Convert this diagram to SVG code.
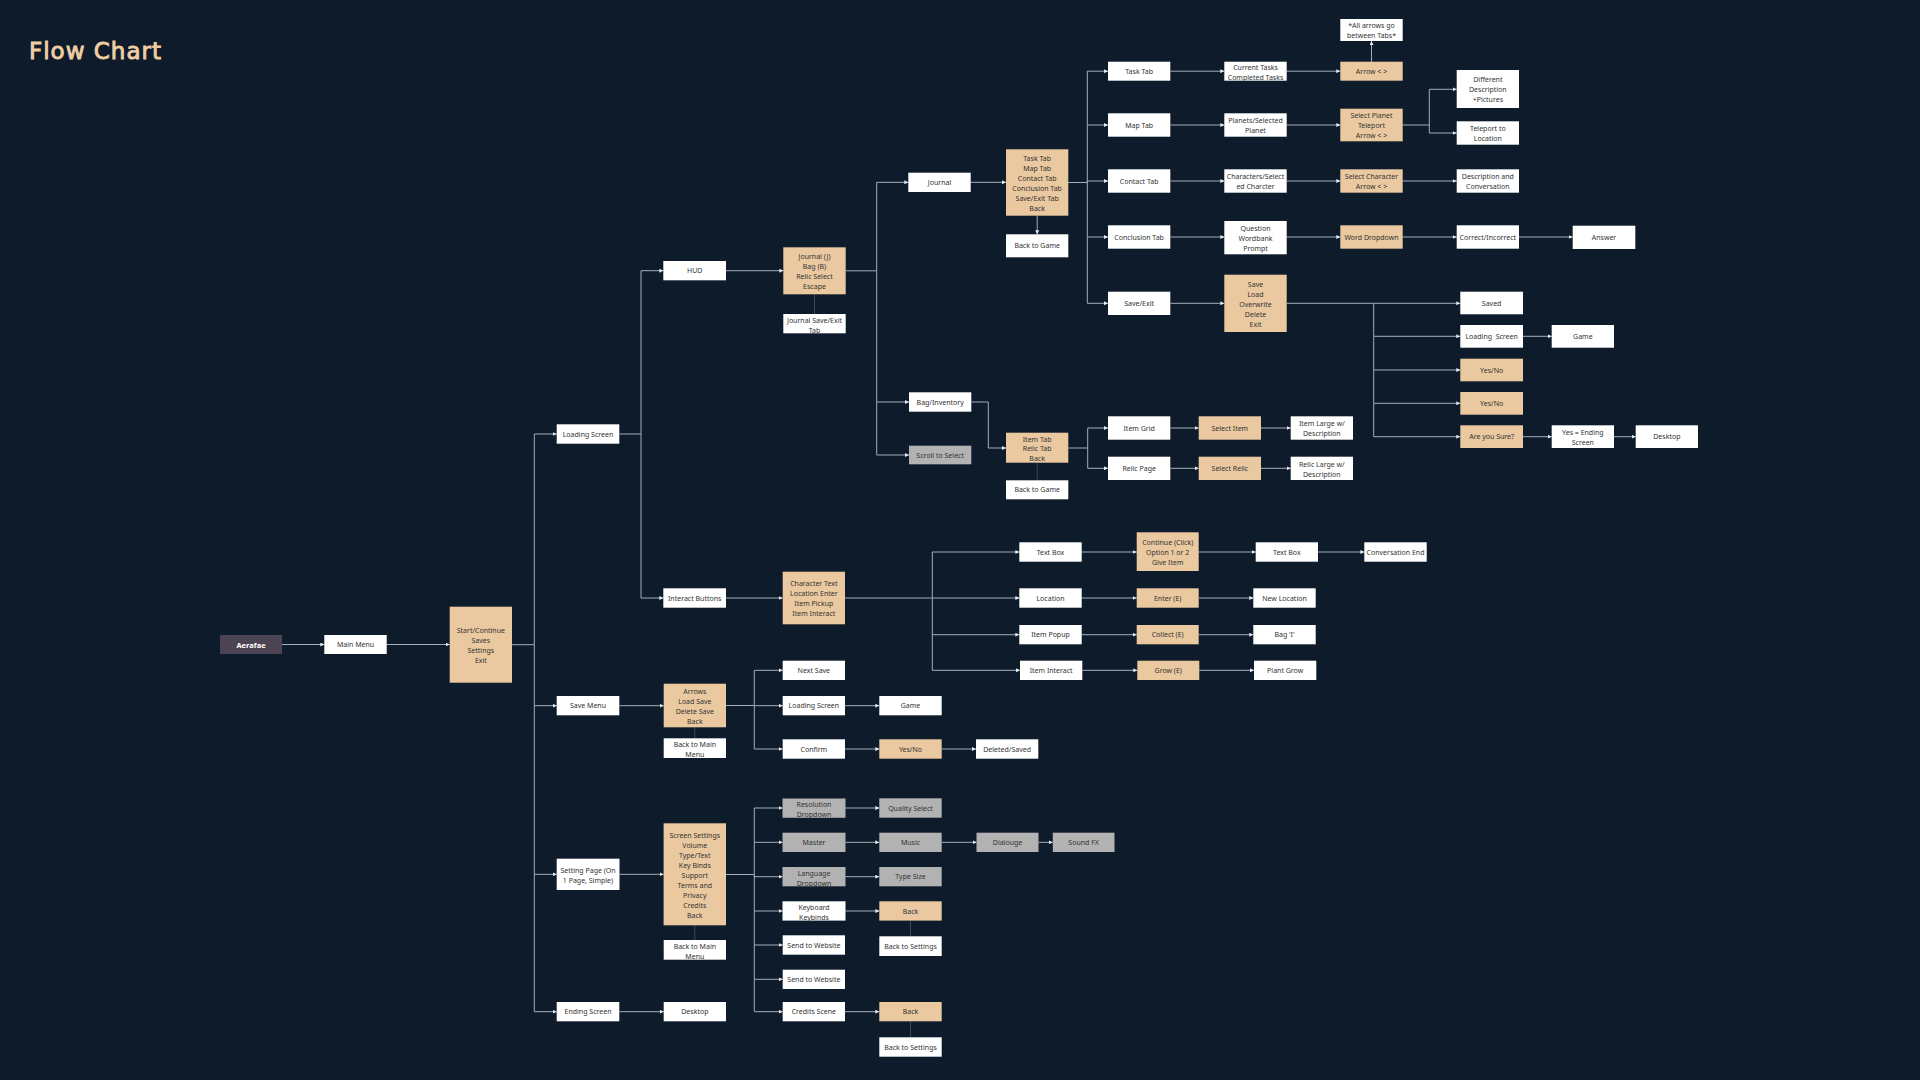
<svg xmlns="http://www.w3.org/2000/svg" width="1920" height="1080" viewBox="0 0 1920 1080">
<defs>
<style>
.w{fill:#ffffff}
.t{fill:#ebc9a0}
.g{fill:#b2b2b2}
.a{fill:#4d4453}
text{font-family:"Noto Sans","Open Sans","DejaVu Sans",sans-serif;font-size:7px;fill:#333333;text-anchor:middle;dominant-baseline:central}
.wt{fill:#ffffff;font-weight:bold;font-size:7.5px}
.c path{fill:none;stroke:#a3aeb9;stroke-width:1;marker-end:url(#ar)}
.f path{fill:none;stroke:#3b4654;stroke-width:1}
.title{font-family:"DejaVu Sans",sans-serif;font-size:23px;fill:#f0cea2;text-anchor:start;dominant-baseline:auto;letter-spacing:1px;stroke:#f0cea2;stroke-width:0.9;paint-order:stroke}
</style>
<marker id="ar" markerUnits="userSpaceOnUse" markerWidth="4" markerHeight="4" refX="4" refY="2" orient="auto">
<path d="M0,0 L4,2 L0,4 z" fill="#e4eaef"/>
</marker>
</defs>
<rect x="0" y="0" width="1920" height="1080" fill="#0d1b2a"/>
<text class="title" x="29" y="59">Flow Chart</text>

<g id="connectors">
<g class="c">
<path d="M282,644.5 H324.3"/>
<path d="M386.7,644.5 H449.7"/>
<path d="M512,644.7 H534.3 V434 H556.7"/>
<path d="M534.3,644.7 V705.7 H556.7"/>
<path d="M534.3,705.7 V874.3 H556.7"/>
<path d="M534.3,874.3 V1011.7 H556.7"/>
<path d="M619.3,434 H641 V270.7 H663.3"/>
<path d="M641,434 V598 H663.3"/>
<path d="M726,270.7 H783.3"/>
<path d="M845.7,270.8 H876.7 V182.3 H908.3"/>
<path d="M876.7,270.8 V402 H909"/>
<path d="M876.7,402 V455 H909"/>
<path d="M970.7,182.3 H1006"/>
<path d="M1037.2,215.7 V234.3"/>
<path d="M1068.3,182.5 H1087.3 V71.2 H1108"/>
<path d="M1087.3,125 H1108"/>
<path d="M1087.3,182.5 V181 H1108"/>
<path d="M1087.3,182.5 V237 H1108"/>
<path d="M1087.3,237 V303.3 H1108"/>
<path d="M1170.3,71.2 H1224.3"/>
<path d="M1286.7,71.2 H1340.3"/>
<path d="M1371.5,61.7 V41"/>
<path d="M1170.3,125 H1224.3"/>
<path d="M1286.7,125 H1340.3"/>
<path d="M1402.7,125 H1429.3 V89.3 H1456.7"/>
<path d="M1429.3,125 V133 H1456.7"/>
<path d="M1170.3,181 H1224.3"/>
<path d="M1286.7,181 H1340.3"/>
<path d="M1402.7,181 H1456.7"/>
<path d="M1170.3,237 H1224.3"/>
<path d="M1286.7,237 H1340.3"/>
<path d="M1402.7,237 H1456.7"/>
<path d="M1519,237 H1572.7"/>
<path d="M1170.3,303.3 H1224.3"/>
<path d="M1286.7,303.3 H1460.3"/>
<path d="M1373.7,303.3 V336.3 H1460.3"/>
<path d="M1373.7,336.3 V370 H1460.3"/>
<path d="M1373.7,370 V403.3 H1460.3"/>
<path d="M1373.7,403.3 V436.7 H1460.3"/>
<path d="M1523,336.3 H1551.7"/>
<path d="M1523,436.7 H1551.7"/>
<path d="M1614,436.7 H1635.7"/>
<path d="M971.3,402 H988.3 V448 H1006"/>
<path d="M1068.3,448 H1087.7 V428 H1108"/>
<path d="M1087.7,448 V468.3 H1108"/>
<path d="M1170.3,428 H1198.7"/>
<path d="M1261,428 H1290.7"/>
<path d="M1170.3,468.3 H1198.7"/>
<path d="M1261,468.3 H1290.7"/>
<path d="M726,598 H782.7"/>
<path d="M845,598 H932.3 V552 H1019.3"/>
<path d="M932.3,598 H1019.3"/>
<path d="M932.3,598 V634.7 H1019.3"/>
<path d="M932.3,634.7 V670.3 H1020"/>
<path d="M1081.7,552 H1136.7"/>
<path d="M1198.7,552 H1255.7"/>
<path d="M1318,552 H1364.3"/>
<path d="M1081.7,598 H1136.7"/>
<path d="M1198.7,598 H1253.3"/>
<path d="M1081.7,634.7 H1136.7"/>
<path d="M1198.7,634.7 H1253.3"/>
<path d="M1082.3,670.3 H1137.3"/>
<path d="M1199.3,670.3 H1254"/>
<path d="M619.3,705.7 H663.7"/>
<path d="M726,705.5 H754.3 V670.3 H782.7"/>
<path d="M754.3,705.7 H782.7"/>
<path d="M754.3,705.7 V749 H782.7"/>
<path d="M845,705.7 H879.3"/>
<path d="M845,749 H879.3"/>
<path d="M941.7,749 H976"/>
<path d="M619.5,874.3 H663.6"/>
<path d="M726,874.5 H754.3 V808 H782.5"/>
<path d="M754.3,842.3 H782.5"/>
<path d="M754.3,874.5 V876.7 H782.5"/>
<path d="M754.3,874.5 V911 H782.5"/>
<path d="M754.3,911 V945 H782.7"/>
<path d="M754.3,945 V979.3 H782.7"/>
<path d="M754.3,979.3 V1011.7 H782.7"/>
<path d="M845.5,808 H879.3"/>
<path d="M845.5,842.3 H879.3"/>
<path d="M941.7,842.3 H976.5"/>
<path d="M1038.5,842.3 H1052.8"/>
<path d="M845.5,876.7 H879.3"/>
<path d="M845.5,911 H879.3"/>
<path d="M845,1011.7 H879.3"/>
<path d="M619.3,1011.7 H663.7"/>
</g>
<g class="f">
<path d="M814.5,294.3 V314"/>
<path d="M1037.2,462.7 V480.3"/>
<path d="M694.8,727.3 V738.3"/>
<path d="M694.8,925.3 V940"/>
<path d="M910.5,920.6 V936.3"/>
<path d="M910.5,1021.3 V1037.3"/>
</g>
</g>

<g id="n-aerafae"><rect class="a" x="220" y="635" width="62" height="19"/><text class="wt" x="251" y="644.5">Aerafae</text></g>
<g id="n-main-menu"><rect class="w" x="324.3" y="635" width="62.4" height="19"/><text x="355.5" y="644.5">Main Menu</text></g>
<g id="n-start"><rect class="t" x="449.7" y="606.7" width="62.3" height="76"/><text x="480.85"><tspan x="480.85" y="629.7">Start/Continue</tspan><tspan x="480.85" y="639.7">Saves</tspan><tspan x="480.85" y="649.7">Settings</tspan><tspan x="480.85" y="659.7">Exit</tspan></text></g>

<g id="n-loading-screen"><rect class="w" x="556.7" y="424.3" width="62.6" height="19.4"/><text x="588" y="434">Loading Screen</text></g>
<g id="n-save-menu"><rect class="w" x="556.7" y="696" width="62.6" height="19.3"/><text x="588" y="705.7">Save Menu</text></g>
<g id="n-setting-page"><rect class="w" x="556.7" y="858.7" width="62.8" height="31.3"/><text x="588"><tspan x="588" y="869.7">Setting Page (On</tspan><tspan x="588" y="879.5">1 Page, Simple)</tspan></text></g>
<g id="n-ending-screen"><rect class="w" x="556.7" y="1002" width="62.6" height="19.3"/><text x="588" y="1011.7">Ending Screen</text></g>

<g id="n-hud"><rect class="w" x="663.3" y="261" width="62.7" height="19.3"/><text x="694.7" y="270.7">HUD</text></g>
<g id="n-interact-buttons"><rect class="w" x="663.3" y="588.3" width="62.7" height="19.4"/><text x="694.7" y="598">Interact Buttons</text></g>
<g id="n-arrows-load"><rect class="t" x="663.7" y="683.7" width="62.3" height="43.6"/><text x="694.85"><tspan x="694.85" y="690.7">Arrows</tspan><tspan x="694.85" y="700.7">Load Save</tspan><tspan x="694.85" y="710.7">Delete Save</tspan><tspan x="694.85" y="720.7">Back</tspan></text></g>
<g id="n-back-main-1"><rect class="w" x="663.7" y="738.3" width="62.3" height="19.7"/><text x="694.85"><tspan x="694.85" y="744">Back to Main</tspan><tspan x="694.85" y="754">Menu</tspan></text></g>
<g id="n-screen-settings"><rect class="t" x="663.6" y="823.3" width="62.4" height="102"/><text x="694.8"><tspan x="694.8" y="834.5">Screen Settings</tspan><tspan x="694.8" y="844.5">Volume</tspan><tspan x="694.8" y="854.5">Type/Text</tspan><tspan x="694.8" y="864.5">Key Binds</tspan><tspan x="694.8" y="874.5">Support</tspan><tspan x="694.8" y="884.5">Terms and</tspan><tspan x="694.8" y="894.5">Privacy</tspan><tspan x="694.8" y="904.5">Credits</tspan><tspan x="694.8" y="914.5">Back</tspan></text></g>
<g id="n-back-main-2"><rect class="w" x="663.7" y="940" width="62.3" height="19.7"/><text x="694.85"><tspan x="694.85" y="946">Back to Main</tspan><tspan x="694.85" y="956">Menu</tspan></text></g>
<g id="n-desktop-1"><rect class="w" x="663.7" y="1002" width="62.3" height="19.3"/><text x="694.85" y="1011.7">Desktop</text></g>

<g id="n-journal-keys"><rect class="t" x="783.3" y="247.3" width="62.4" height="47"/><text x="814.5"><tspan x="814.5" y="255.8">Journal (J)</tspan><tspan x="814.5" y="265.8">Bag (B)</tspan><tspan x="814.5" y="275.8">Relic Select</tspan><tspan x="814.5" y="285.8">Escape</tspan></text></g>
<g id="n-journal-save-exit"><rect class="w" x="783.3" y="314" width="62.4" height="19.3"/><text x="814.5"><tspan x="814.5" y="320">Journal Save/Exit</tspan><tspan x="814.5" y="329.5">Tab</tspan></text></g>
<g id="n-character-text"><rect class="t" x="782.7" y="571.7" width="62.3" height="52.6"/><text x="813.85"><tspan x="813.85" y="583.3">Character Text</tspan><tspan x="813.85" y="593.3">Location Enter</tspan><tspan x="813.85" y="603.3">Item Pickup</tspan><tspan x="813.85" y="613.3">Item Interact</tspan></text></g>
<g id="n-next-save"><rect class="w" x="782.7" y="660.7" width="62.3" height="19.3"/><text x="813.85" y="670.3">Next Save</text></g>
<g id="n-loading-screen-2"><rect class="w" x="782.7" y="696" width="62.3" height="19.3"/><text x="813.85" y="705.7">Loading Screen</text></g>
<g id="n-confirm"><rect class="w" x="782.7" y="739.3" width="62.3" height="19.4"/><text x="813.85" y="749">Confirm</text></g>
<g id="n-resolution"><rect class="g" x="782.5" y="798.5" width="63" height="19.3"/><text x="814"><tspan x="814" y="804">Resolution</tspan><tspan x="814" y="814">Dropdown</tspan></text></g>
<g id="n-master"><rect class="g" x="782.5" y="832.7" width="63" height="19.3"/><text x="814" y="842.3">Master</text></g>
<g id="n-language"><rect class="g" x="782.5" y="867" width="63" height="19.3"/><text x="814"><tspan x="814" y="872.7">Language</tspan><tspan x="814" y="882.7">Dropdown</tspan></text></g>
<g id="n-keyboard"><rect class="w" x="782.5" y="901.3" width="63" height="19.3"/><text x="814"><tspan x="814" y="906.7">Keyboard</tspan><tspan x="814" y="916.7">Keybinds</tspan></text></g>
<g id="n-send-website-1"><rect class="w" x="782.7" y="935.3" width="62.3" height="19.4"/><text x="813.85" y="945">Send to Website</text></g>
<g id="n-send-website-2"><rect class="w" x="782.7" y="969.7" width="62.3" height="19.3"/><text x="813.85" y="979.3">Send to Website</text></g>
<g id="n-credits-scene"><rect class="w" x="782.7" y="1002" width="62.3" height="19.3"/><text x="813.85" y="1011.7">Credits Scene</text></g>

<g id="n-journal"><rect class="w" x="908.3" y="172.7" width="62.4" height="19.3"/><text x="939.5" y="182.3">Journal</text></g>
<g id="n-bag-inventory"><rect class="w" x="909" y="392.3" width="62.3" height="19.4"/><text x="940.15" y="402">Bag/Inventory</text></g>
<g id="n-scroll-select"><rect class="g" x="909" y="445.7" width="62.3" height="18.6"/><text x="940.15" y="455">Scroll to Select</text></g>
<g id="n-game-1"><rect class="w" x="879.3" y="696" width="62.4" height="19.3"/><text x="910.5" y="705.7">Game</text></g>
<g id="n-yesno-1"><rect class="t" x="879.3" y="739.3" width="62.4" height="19.4"/><text x="910.5" y="749">Yes/No</text></g>
<g id="n-quality"><rect class="g" x="879.3" y="798.3" width="62.4" height="19.4"/><text x="910.5" y="808">Quality Select</text></g>
<g id="n-music"><rect class="g" x="879.3" y="832.7" width="62.4" height="19.3"/><text x="910.5" y="842.3">Music</text></g>
<g id="n-type-size"><rect class="g" x="879.3" y="867" width="62.4" height="19.3"/><text x="910.5" y="876.7">Type Size</text></g>
<g id="n-back-1"><rect class="t" x="879.3" y="901.3" width="62.4" height="19.3"/><text x="910.5" y="911">Back</text></g>
<g id="n-back-settings-1"><rect class="w" x="879.3" y="936.3" width="62.4" height="19.7"/><text x="910.5" y="946">Back to Settings</text></g>
<g id="n-back-2"><rect class="t" x="879.3" y="1002" width="62.4" height="19.3"/><text x="910.5" y="1011.7">Back</text></g>
<g id="n-back-settings-2"><rect class="w" x="879.3" y="1037.3" width="62.4" height="19.4"/><text x="910.5" y="1047">Back to Settings</text></g>
<g id="n-deleted-saved"><rect class="w" x="976" y="739.3" width="62.3" height="19.4"/><text x="1007.15" y="749">Deleted/Saved</text></g>
<g id="n-dialouge"><rect class="g" x="976.5" y="832.7" width="62" height="19.3"/><text x="1007.5" y="842.3">Dialouge</text></g>
<g id="n-sound-fx"><rect class="g" x="1052.8" y="832.7" width="61.7" height="19.3"/><text x="1083.65" y="842.3">Sound FX</text></g>

<g id="n-tabs"><rect class="t" x="1006" y="149.3" width="62.3" height="66.4"/><text x="1037.15"><tspan x="1037.15" y="157.5">Task Tab</tspan><tspan x="1037.15" y="167.5">Map Tab</tspan><tspan x="1037.15" y="177.5">Contact Tab</tspan><tspan x="1037.15" y="187.5">Conclusion Tab</tspan><tspan x="1037.15" y="197.5">Save/Exit Tab</tspan><tspan x="1037.15" y="207.5">Back</tspan></text></g>
<g id="n-back-game-1"><rect class="w" x="1006" y="234.3" width="62.3" height="23"/><text x="1037.15" y="245.8">Back to Game</text></g>
<g id="n-item-tab"><rect class="t" x="1006" y="432.7" width="62.3" height="30"/><text x="1037.15"><tspan x="1037.15" y="438.5">Item Tab</tspan><tspan x="1037.15" y="448.3">Relic Tab</tspan><tspan x="1037.15" y="458">Back</tspan></text></g>
<g id="n-back-game-2"><rect class="w" x="1006" y="480.3" width="62.3" height="19"/><text x="1037.15" y="489.8">Back to Game</text></g>
<g id="n-text-box-1"><rect class="w" x="1019.3" y="542.3" width="62.4" height="19.4"/><text x="1050.5" y="552">Text Box</text></g>
<g id="n-location"><rect class="w" x="1019.3" y="588.3" width="62.4" height="19.4"/><text x="1050.5" y="598">Location</text></g>
<g id="n-item-popup"><rect class="w" x="1019.3" y="625" width="62.4" height="19.3"/><text x="1050.5" y="634.7">Item Popup</text></g>
<g id="n-item-interact"><rect class="w" x="1020" y="660.7" width="62.3" height="19.3"/><text x="1051.15" y="670.3">Item Interact</text></g>

<g id="n-task-tab"><rect class="w" x="1108" y="61.7" width="62.3" height="19"/><text x="1139.15" y="71.2">Task Tab</text></g>
<g id="n-map-tab"><rect class="w" x="1108" y="113.3" width="62.3" height="23.4"/><text x="1139.15" y="125">Map Tab</text></g>
<g id="n-contact-tab"><rect class="w" x="1108" y="169.3" width="62.3" height="23.4"/><text x="1139.15" y="181">Contact Tab</text></g>
<g id="n-conclusion-tab"><rect class="w" x="1108" y="225.3" width="62.3" height="23.4"/><text x="1139.15" y="237">Conclusion Tab</text></g>
<g id="n-save-exit"><rect class="w" x="1108" y="291.7" width="62.3" height="23.3"/><text x="1139.15" y="303.3">Save/Exit</text></g>
<g id="n-item-grid"><rect class="w" x="1108" y="416.3" width="62.3" height="23.4"/><text x="1139.15" y="428">Item Grid</text></g>
<g id="n-relic-page"><rect class="w" x="1108" y="456.7" width="62.3" height="23.3"/><text x="1139.15" y="468.3">Relic Page</text></g>

<g id="n-continue"><rect class="t" x="1136.7" y="532.3" width="62" height="38.7"/><text x="1167.7"><tspan x="1167.7" y="541.7">Continue (Click)</tspan><tspan x="1167.7" y="551.7">Option 1 or 2</tspan><tspan x="1167.7" y="561.7">Give Item</tspan></text></g>
<g id="n-enter"><rect class="t" x="1136.7" y="588.3" width="62" height="19.4"/><text x="1167.7" y="598">Enter (E)</text></g>
<g id="n-collect"><rect class="t" x="1136.7" y="625" width="62" height="19.3"/><text x="1167.7" y="634.7">Collect (E)</text></g>
<g id="n-grow"><rect class="t" x="1137.3" y="660.7" width="62" height="19.3"/><text x="1168.3" y="670.3">Grow (E)</text></g>
<g id="n-select-item"><rect class="t" x="1198.7" y="416.3" width="62.3" height="23.4"/><text x="1229.85" y="428">Select Item</text></g>
<g id="n-select-relic"><rect class="t" x="1198.7" y="456.7" width="62.3" height="23.3"/><text x="1229.85" y="468.3">Select Relic</text></g>

<g id="n-current-tasks"><rect class="w" x="1224.3" y="61.7" width="62.4" height="19"/><text x="1255.5"><tspan x="1255.5" y="67.3">Current Tasks</tspan><tspan x="1255.5" y="77">Completed Tasks</tspan></text></g>
<g id="n-planets"><rect class="w" x="1224.3" y="113.3" width="62.4" height="23.4"/><text x="1255.5"><tspan x="1255.5" y="120">Planets/Selected</tspan><tspan x="1255.5" y="130">Planet</tspan></text></g>
<g id="n-characters"><rect class="w" x="1224.3" y="169.3" width="62.4" height="23.4"/><text x="1255.5"><tspan x="1255.5" y="176">Characters/Select</tspan><tspan x="1255.5" y="186">ed Charcter</tspan></text></g>
<g id="n-question"><rect class="w" x="1224.3" y="221" width="62.4" height="33.3"/><text x="1255.5"><tspan x="1255.5" y="227.7">Question</tspan><tspan x="1255.5" y="237.7">Wordbank</tspan><tspan x="1255.5" y="247.7">Prompt</tspan></text></g>
<g id="n-save-load"><rect class="t" x="1224.3" y="274.7" width="62.4" height="57.3"/><text x="1255.5"><tspan x="1255.5" y="283.5">Save</tspan><tspan x="1255.5" y="293.5">Load</tspan><tspan x="1255.5" y="303.5">Overwrite</tspan><tspan x="1255.5" y="313.5">Delete</tspan><tspan x="1255.5" y="323.5">Exit</tspan></text></g>

<g id="n-text-box-2"><rect class="w" x="1255.7" y="542.3" width="62.3" height="19.4"/><text x="1286.85" y="552">Text Box</text></g>
<g id="n-new-location"><rect class="w" x="1253.3" y="588.3" width="62.4" height="19.4"/><text x="1284.5" y="598">New Location</text></g>
<g id="n-bag-i"><rect class="w" x="1253.3" y="625" width="62.4" height="19.3"/><text x="1284.5" y="634.7">Bag 'I'</text></g>
<g id="n-plant-grow"><rect class="w" x="1254" y="660.7" width="62.3" height="19.3"/><text x="1285.15" y="670.3">Plant Grow</text></g>
<g id="n-item-large"><rect class="w" x="1290.7" y="416.3" width="62.3" height="23.4"/><text x="1321.85"><tspan x="1321.85" y="423.3">Item Large w/</tspan><tspan x="1321.85" y="433.3">Description</tspan></text></g>
<g id="n-relic-large"><rect class="w" x="1290.7" y="456.7" width="62.3" height="23.3"/><text x="1321.85"><tspan x="1321.85" y="463.7">Relic Large w/</tspan><tspan x="1321.85" y="473.7">Description</tspan></text></g>

<g id="n-arrow"><rect class="t" x="1340.3" y="61.7" width="62.4" height="19"/><text x="1371.5" y="71.2">Arrow &lt; &gt;</text></g>
<g id="n-note"><rect class="w" x="1340.3" y="19" width="62.4" height="22"/><text x="1371.5"><tspan x="1371.5" y="25.3">*All arrows go</tspan><tspan x="1371.5" y="35">between Tabs*</tspan></text></g>
<g id="n-select-planet"><rect class="t" x="1340.3" y="108.7" width="62.4" height="32.6"/><text x="1371.5"><tspan x="1371.5" y="115.3">Select Planet</tspan><tspan x="1371.5" y="125.3">Teleport</tspan><tspan x="1371.5" y="135">Arrow &lt; &gt;</tspan></text></g>
<g id="n-select-character"><rect class="t" x="1340.3" y="169.3" width="62.4" height="23.4"/><text x="1371.5"><tspan x="1371.5" y="176">Select Character</tspan><tspan x="1371.5" y="186">Arrow &lt; &gt;</tspan></text></g>
<g id="n-word-dropdown"><rect class="t" x="1340.3" y="225.3" width="62.4" height="23.4"/><text x="1371.5" y="237">Word Dropdown</text></g>
<g id="n-conversation-end"><rect class="w" x="1364.3" y="542.3" width="62.4" height="19.4"/><text x="1395.5" y="552">Conversation End</text></g>

<g id="n-different-desc"><rect class="w" x="1456.7" y="70" width="62.3" height="38"/><text x="1487.85"><tspan x="1487.85" y="79">Different</tspan><tspan x="1487.85" y="89">Description</tspan><tspan x="1487.85" y="99">+Pictures</tspan></text></g>
<g id="n-teleport"><rect class="w" x="1456.7" y="121.3" width="62.3" height="23.4"/><text x="1487.85"><tspan x="1487.85" y="128.3">Teleport to</tspan><tspan x="1487.85" y="138">Location</tspan></text></g>
<g id="n-desc-conv"><rect class="w" x="1456.7" y="169.3" width="62.3" height="23.4"/><text x="1487.85"><tspan x="1487.85" y="176">Description and</tspan><tspan x="1487.85" y="186">Conversation</tspan></text></g>
<g id="n-correct"><rect class="w" x="1456.7" y="225.3" width="62.3" height="23.4"/><text x="1487.85" y="237">Correct/Incorrect</text></g>
<g id="n-saved"><rect class="w" x="1460.3" y="291.7" width="62.7" height="22.6"/><text x="1491.65" y="303">Saved</text></g>
<g id="n-loading-screen-3"><rect class="w" x="1460.3" y="325" width="62.7" height="22.7"/><text x="1491.65" y="336.3" style="white-space:pre">Loading  Screen</text></g>
<g id="n-yesno-2"><rect class="t" x="1460.3" y="358.7" width="62.7" height="22.6"/><text x="1491.65" y="370">Yes/No</text></g>
<g id="n-yesno-3"><rect class="t" x="1460.3" y="392" width="62.7" height="22.7"/><text x="1491.65" y="403.3">Yes/No</text></g>
<g id="n-are-you-sure"><rect class="t" x="1460.3" y="425.3" width="62.7" height="22.7"/><text x="1491.65" y="436.7">Are you Sure?</text></g>
<g id="n-game-2"><rect class="w" x="1551.7" y="325" width="62.3" height="22.7"/><text x="1582.85" y="336.3">Game</text></g>
<g id="n-yes-ending"><rect class="w" x="1551.7" y="425.3" width="62.3" height="22.7"/><text x="1582.85"><tspan x="1582.85" y="432">Yes = Ending</tspan><tspan x="1582.85" y="442">Screen</tspan></text></g>
<g id="n-desktop-2"><rect class="w" x="1635.7" y="425.3" width="62.3" height="22.7"/><text x="1666.85" y="436.7">Desktop</text></g>
<g id="n-answer"><rect class="w" x="1572.7" y="225.7" width="62.6" height="23.3"/><text x="1604" y="237.3">Answer</text></g>
</svg>
